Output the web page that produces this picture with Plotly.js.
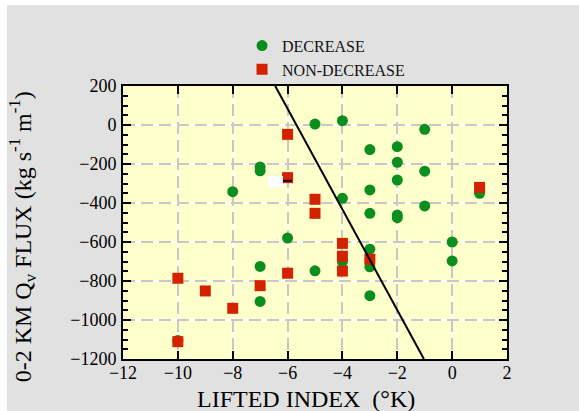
<!DOCTYPE html>
<html>
<head>
<meta charset="utf-8">
<script src="https://cdn.plot.ly/plotly-3.0.1.min.js"></script>
<style>
html,body{margin:0;padding:0;background:#ffffff;}
#chart{position:absolute;left:7px;top:5px;width:572px;height:406px;}
</style>
</head>
<body>
<div id="chart"></div>
<script>
// DECREASE cases
const decX = [-7, -7, -8, -5, -4, -1, -3, -2, -2, -1, -2, -3, -4, 1, -3, -2, -2, -1,
              -6, -7, -7, -10, -5, -4, -3, -3, -3, 0, 0];
const decY = [-215, -235, -342, 5, 22, -22, -126, -111, -191, -237, -282, -333, -376, -350, -453, -462, -475, -415,
              -580, -725, -905, -1105, -748, -700, -637, -727, -875, -600, -697];
// NON-DECREASE cases
const nonX = [-6, -6, -5, -5, 1, -10, -9, -8, -7, -6, -10, -4, -4, -4, -3];
const nonY = [-48, -270, -381, -453, -320, -786, -851, -940, -824, -760, -1111, -607, -673, -749, -688];
// Separating line
const lineX = [-6.45, -1.03];
const lineY = [200, -1200];

const xRange = [-12, 2];
const yRange = [-1200, 200];
const serif = 'Liberation Serif, Times New Roman, serif';

const traces = [
  {x: decX, y: decY, type: 'scatter', mode: 'markers', name: 'DECREASE',
   marker: {symbol: 'circle', size: 11, color: '#0a8f1e'}},
  {x: nonX, y: nonY, type: 'scatter', mode: 'markers', name: 'NON-DECREASE',
   marker: {symbol: 'square', size: 11, color: '#d42200'}},
  {x: lineX, y: lineY, type: 'scatter', mode: 'lines', showlegend: false,
   xaxis: 'x2', yaxis: 'y2', line: {color: '#000000', width: 2}, hoverinfo: 'skip'}
];

const layout = {
  width: 572, height: 406,
  paper_bgcolor: '#e1e1e1',
  plot_bgcolor: '#ffffcc',
  margin: {l: 116, r: 72, t: 81, b: 52},
  font: {family: serif, color: '#000000', size: 18},
  showlegend: true,
  legend: {x: 0.31, y: 1.21, xanchor: 'left', yanchor: 'top',
           bgcolor: 'rgba(0,0,0,0)', font: {family: serif, size: 16, color: '#111111'},
           tracegroupgap: 0},
  xaxis: {range: xRange, dtick: 2, tick0: 0, showgrid: true, gridcolor: '#ffffff', gridwidth: 2,
          zeroline: false, showline: true, linecolor: '#000000', linewidth: 2, mirror: 'allticks',
          ticks: 'inside', ticklen: 8, tickwidth: 2, tickcolor: '#000000', ticklabelstandoff: -4,
          tickfont: {family: serif, size: 18, color: '#000000'}},
  yaxis: {range: yRange, dtick: 200, tick0: 0, showgrid: true, gridcolor: '#ffffff', gridwidth: 2,
          zeroline: false, showline: true, linecolor: '#000000', linewidth: 2, mirror: 'allticks',
          ticks: 'inside', ticklen: 8, tickwidth: 2, tickcolor: '#000000', ticklabelstandoff: 1,
          minor: {dtick: 50, ticks: 'inside', ticklen: 5, tickwidth: 2, tickcolor: '#000000', showgrid: false},
          tickfont: {family: serif, size: 18, color: '#000000'}},
  xaxis2: {range: xRange, dtick: 2, tick0: 0, overlaying: 'x', showgrid: true, gridcolor: '#c8c8c8',
           gridwidth: 2, griddash: '12px,6px', zeroline: false, showline: false, showticklabels: false, ticks: ''},
  yaxis2: {range: yRange, dtick: 200, tick0: 0, overlaying: 'y', showgrid: true, gridcolor: '#c8c8c8',
           gridwidth: 2, griddash: '12px,6px', zeroline: false, showline: false, showticklabels: false, ticks: ''},
  shapes: [
    {type: 'rect', xref: 'x', yref: 'y', x0: -6.72, x1: -6.17, y0: -320, y1: -262,
     fillcolor: '#ffffff', line: {width: 0}, layer: 'above'},
    {type: 'line', xref: 'x', yref: 'y', x0: -6.17, x1: -5.84, y0: -286, y1: -286,
     line: {color: '#000000', width: 2}, layer: 'above'}
  ],
  annotations: [
    {text: 'LIFTED INDEX&nbsp; (°K)', xref: 'paper', yref: 'paper', x: 0.477, y: -0.145,
     xanchor: 'center', yanchor: 'middle', showarrow: false,
     font: {family: serif, size: 24, color: '#000000'}},
    {text: '0-2 KM Q<sub>v</sub> FLUX (kg s<sup>-1</sup> m<sup>-1</sup>)', xref: 'paper', yref: 'paper',
     x: -0.262, y: 0.447, xanchor: 'center', yanchor: 'middle', textangle: -90, showarrow: false,
     font: {family: serif, size: 24, color: '#000000'}}
  ]
};

Plotly.newPlot('chart', traces, layout, {displayModeBar: false, staticPlot: true});
</script>
</body>
</html>
